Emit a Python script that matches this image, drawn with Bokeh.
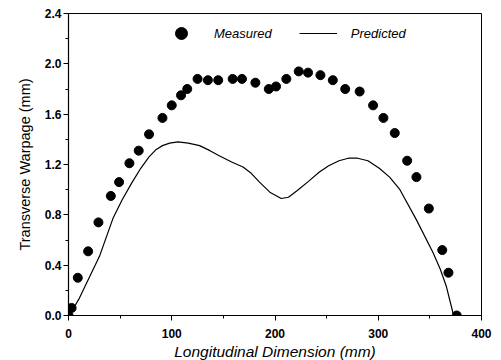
from bokeh.plotting import figure
from bokeh.models import FixedTicker, Legend, LegendItem, Range1d
from bokeh.embed import file_html
from bokeh.resources import INLINE

# Measured data (points)
meas_x = [0, 3, 9, 19, 29, 41, 49, 59, 68, 78, 91, 100, 109, 115, 125, 135, 145,
          159, 168, 181, 194, 201, 211, 223, 232, 244, 256, 268, 282, 295, 305,
          316, 328, 337, 349, 362, 368, 376]
meas_y = [0.0, 0.06, 0.30, 0.51, 0.74, 0.95, 1.06, 1.21, 1.31, 1.44, 1.57, 1.67,
          1.75, 1.80, 1.88, 1.87, 1.87, 1.88, 1.88, 1.85, 1.80, 1.82, 1.88, 1.94,
          1.93, 1.91, 1.87, 1.80, 1.78, 1.67, 1.57, 1.45, 1.23, 1.10, 0.85, 0.52,
          0.34, 0.0]

# Predicted curve
pred_x = [0, 5, 10, 20, 30, 43, 52, 61, 70, 78, 85, 91, 98, 106, 116, 127, 137,
          146, 158, 169, 177, 185, 195, 206, 213, 221, 233, 243, 252, 262, 271,
          280, 290, 301, 311, 321, 337, 353, 360, 366, 373]
pred_y = [0.0, 0.06, 0.13, 0.30, 0.47, 0.77, 0.92, 1.05, 1.17, 1.26, 1.32, 1.35,
          1.37, 1.38, 1.37, 1.35, 1.31, 1.27, 1.22, 1.18, 1.13, 1.06, 0.98, 0.93,
          0.94, 0.99, 1.07, 1.14, 1.19, 1.23, 1.25, 1.25, 1.23, 1.17, 1.10, 1.00,
          0.76, 0.50, 0.37, 0.23, 0.0]

x_ticks = [0, 100, 200, 300, 400]
x_minor = [50, 150, 250, 350]
y_ticks = [0.0, 0.4, 0.8, 1.2, 1.6, 2.0, 2.4]
y_minor = [0.2, 0.6, 1.0, 1.4, 1.8, 2.2]
y_labels = ["0.0", "0.4", "0.8", "1.2", "1.6", "2.0", "2.4"]

p = figure(frame_width=413, frame_height=302, output_backend="svg",
           toolbar_location=None, x_range=Range1d(0, 400), y_range=Range1d(0, 2.4),
           min_border_left=68, min_border_top=13, min_border_right=11,
           min_border_bottom=30)
p.background_fill_color = "white"
p.border_fill_color = "white"
p.outline_line_color = "black"
p.outline_line_width = 1
p.xgrid.visible = False
p.ygrid.visible = False

r_line = p.line(pred_x, pred_y, line_color="black", line_width=1.2)
r_pts = p.scatter(meas_x, meas_y, size=9, marker="circle",
                  fill_color="black", line_color="black")

font = "Liberation Sans"
for ax in (p.xaxis[0], p.yaxis[0]):
    ax.axis_line_color = "black"
    ax.axis_line_width = 1.2
    ax.major_tick_in = 0
    ax.major_tick_out = 5
    ax.minor_tick_in = 0
    ax.minor_tick_out = 3
    ax.major_label_text_font = font
    ax.major_label_text_font_size = "12px"
    ax.major_label_text_font_style = "bold"
    ax.major_label_text_color = "black"
    ax.axis_label_text_font = font
    ax.axis_label_text_color = "black"

p.xaxis[0].ticker = FixedTicker(ticks=x_ticks, minor_ticks=x_minor)
p.yaxis[0].ticker = FixedTicker(ticks=y_ticks, minor_ticks=y_minor)
p.yaxis[0].major_label_overrides = {t: l for t, l in zip(y_ticks, y_labels)}
p.xaxis[0].axis_label = "Longitudinal Dimension (mm)"
p.xaxis[0].axis_label_text_font_style = "italic"
p.xaxis[0].axis_label_text_font_size = "15.5px"
p.xaxis[0].axis_label_standoff = 2
p.xaxis[0].major_label_standoff = 8
p.yaxis[0].axis_label = "Transverse Warpage (mm)"
p.yaxis[0].axis_label_text_font_style = "normal"
p.yaxis[0].axis_label_text_font_size = "14.5px"
p.yaxis[0].axis_label_standoff = 9
p.yaxis[0].major_label_standoff = 2

legend = Legend(items=[LegendItem(label="Measured", renderers=[r_pts]),
                       LegendItem(label="Predicted", renderers=[r_line])],
                orientation="horizontal", location=(94, 267),
                glyph_width=38, glyph_height=30, label_standoff=14, spacing=27,
                padding=0, margin=0, border_line_color=None,
                background_fill_alpha=0,
                label_text_font=font, label_text_font_size="13px",
                label_text_font_style="italic", label_text_color="black")
p.add_layout(legend, "center")

open("out.html", "w").write(file_html(p, INLINE))
